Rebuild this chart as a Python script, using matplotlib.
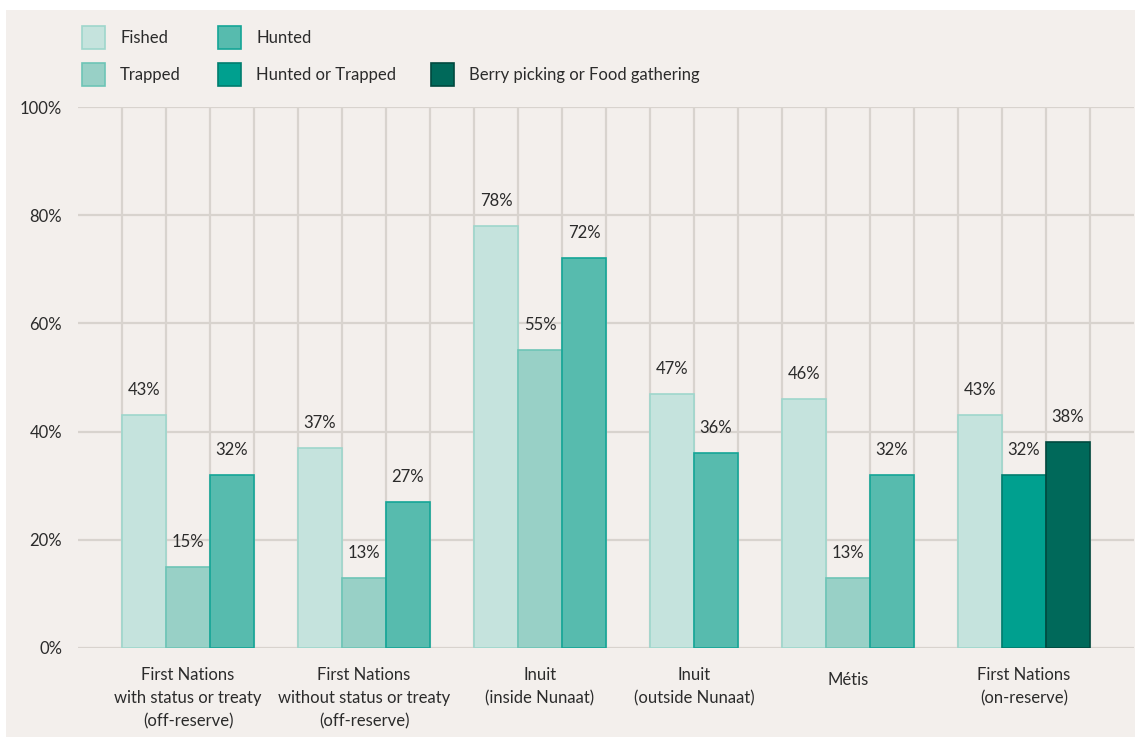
import matplotlib
matplotlib.use("Agg")
import matplotlib.pyplot as plt
from matplotlib.patches import Rectangle

plt.rcParams['font.family'] = ['Lato', 'DejaVu Sans']

# ---- data ----
groups = [
    "First Nations\nwith status or treaty\n(off-reserve)",
    "First Nations\nwithout status or treaty\n(off-reserve)",
    "Inuit\n(inside Nunaat)",
    "Inuit\n(outside Nunaat)",
    "Métis",
    "First Nations\n(on-reserve)",
]
series_names = ["Fished", "Trapped", "Hunted", "Hunted or Trapped",
                "Berry picking or Food gathering"]
# values per group: list of (series index, value)
group_values = [
    [(0, 43), (1, 15), (2, 32)],
    [(0, 37), (1, 13), (2, 27)],
    [(0, 78), (1, 55), (2, 72)],
    [(0, 47), (2, 36)],
    [(0, 46), (1, 13), (2, 32)],
    [(0, 43), (3, 32), (4, 38)],
]
yticks = [0, 20, 40, 60, 80, 100]
ytick_labels = ["0%", "20%", "40%", "60%", "80%", "100%"]

# ---- styles ----
face_colors = ["#c5e3dd", "#98d0c6", "#57bbae", "#00a08f", "#00695a"]
edge_colors = ["#9ed6cc", "#6dc4b6", "#14a596", "#007d6e", "#00493f"]
text_color = "#2b2b2b"
grid_color = "#d8d3ce"
bg_color = "#f3efec"
FS = 12

W, H = 1135, 738
fig = plt.figure(figsize=(W / 100, H / 100), dpi=100, facecolor="white")
fig.patches.append(Rectangle((6 / W, 1 - 737 / H), (1135 - 6) / W, (737 - 10) / H,
                             transform=fig.transFigure, facecolor=bg_color,
                             edgecolor="none", zorder=-10))

ax = fig.add_axes([78 / W, (H - 648) / H, (1134 - 78) / W, (648 - 107) / H])
ax.set_facecolor("none")
for s in ax.spines.values():
    s.set_visible(False)

# slot layout
slot = 1
bar_x, bar_h, bar_s, group_centers = [], [], [], []
for gv in group_values:
    start = slot
    for si, v in gv:
        bar_x.append(slot + 0.5)
        bar_h.append(v)
        bar_s.append(si)
        slot += 1
    group_centers.append((start + slot) / 2)
    slot += 1
n_slots = slot

ax.set_xlim(0, n_slots)
ax.set_ylim(0, 100)

# grid
for y in yticks:
    ax.axhline(y, color=grid_color, lw=1.6, zorder=0)
for x in range(1, n_slots):
    ax.plot([x, x], [0, 100], color=grid_color, lw=1.6, zorder=0)

# bars
for x, h, si in zip(bar_x, bar_h, bar_s):
    ax.bar(x, h, width=1.0, color=face_colors[si], edgecolor=edge_colors[si],
           linewidth=1.2, zorder=3)
    ax.annotate(f"{h}%", (x, h), xytext=(0, 18), textcoords="offset points",
                ha="center", va="center", fontsize=FS, color=text_color)

# y tick labels
ax.set_xticks([])
ax.set_yticks(yticks)
ax.set_yticklabels(ytick_labels, fontsize=FS, color=text_color)
ax.tick_params(axis="y", length=0, pad=11.5)

# category labels
for gx, lab in zip(group_centers, groups):
    nlines = lab.count("\n") + 1
    if nlines == 1:
        ax.annotate(lab, (gx, 0), xytext=(0, -(680 - 648) * 0.72),
                    textcoords="offset points", ha="center", va="center",
                    fontsize=FS, color=text_color)
    else:
        ax.annotate(lab, (gx, 0), xytext=(0, -(667 - 648) * 0.72),
                    textcoords="offset points", ha="center", va="top",
                    fontsize=FS, color=text_color, linespacing=1.55)

# legend (manual, two rows)
legend_items = [
    (0, 82, 26), (2, 218, 26),
    (1, 82, 63), (3, 218, 63), (4, 431, 63),
]
for si, px, py in legend_items:
    fig.patches.append(Rectangle((px / W, 1 - (py + 23) / H), 23 / W, 23 / H,
                                 transform=fig.transFigure,
                                 facecolor=face_colors[si],
                                 edgecolor=edge_colors[si], linewidth=1.2))
    fig.text((px + 38) / W, 1 - (py + 12) / H, series_names[si],
             ha="left", va="center", fontsize=FS, color=text_color)

fig.savefig("out.png", dpi=100, facecolor="white")
